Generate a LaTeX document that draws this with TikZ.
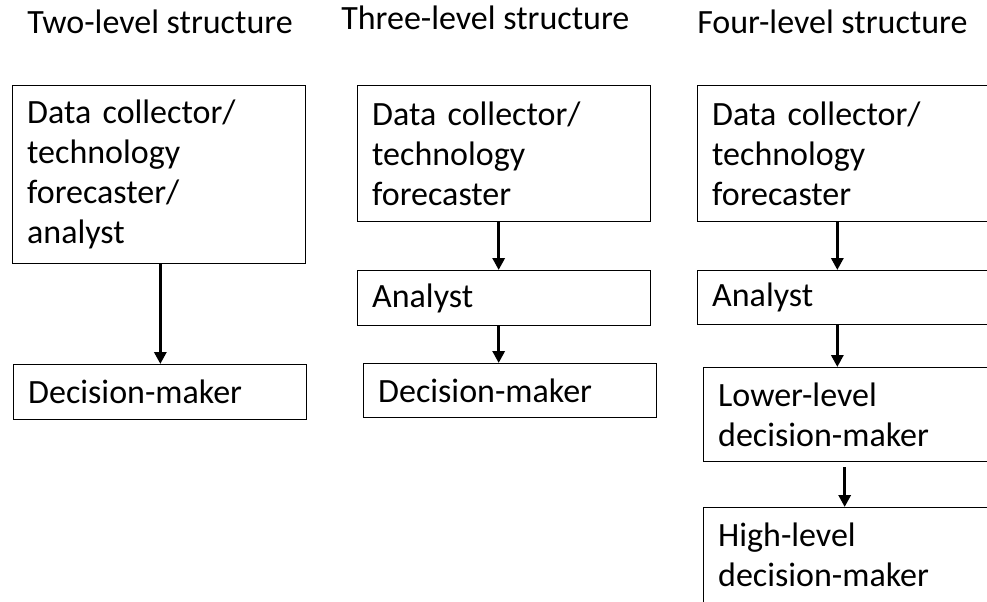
\documentclass[tikz,border=0pt]{standalone}
\usepackage{fontspec}
\setmainfont{Carlito}
\usetikzlibrary{arrows.meta,positioning}

\tikzset{
  level box/.style={draw, line width=0.75pt, anchor=north west, align=left,
    inner xsep=11pt, inner ysep=0pt, text width=197.75pt,
    font=\fontsize{25.5}{30}\selectfont},
  title/.style={anchor=base west, inner sep=0pt, font=\fontsize{25.5}{30}\selectfont},
  down arrow/.style={-{Triangle[length=9pt,width=9pt]}, line width=2.25pt}
}

\begin{document}
\begin{tikzpicture}[x=0.75pt, y=-0.75pt]
\useasboundingbox (0,0) rectangle (987,601);
\clip (0,0) rectangle (987,601);

% Column titles
\node[title] (t2) at (27,33) {Two-level structure};
\node[title] (t3) at (341,29) {Three-level structure};
\node[title] (t4) at (697,33) {Four-level structure};

% Two-level structure
\node[level box, minimum height=133.5pt] (dc2) at (12,85) {Data collector/\\technology\\forecaster/\\analyst};
\node[level box, minimum height=41.25pt] (dm2) at (13,364) {Decision-maker};
\draw[down arrow] ([xshift=1pt]dc2.south) -- ([xshift=1pt]dc2.south |- dm2.north);

% Three-level structure
\node[level box, minimum height=102pt] (dc3) at (357,85) {Data collector/\\technology\\forecaster};
\node[level box, minimum height=41.25pt] (an3) at (357,270) {Analyst};
\node[level box, minimum height=40.5pt] (dm3) at (363,363) {Decision-maker};
\draw[down arrow] ([xshift=-4pt]dc3.south) -- ([xshift=-4pt]dc3.south |- an3.north);
\draw[down arrow] ([xshift=-4pt]an3.south) -- ([xshift=-4pt]an3.south |- dm3.north);

% Four-level structure
\node[level box, minimum height=102pt] (dc4) at (697,85) {Data collector/\\technology\\forecaster};
\node[level box, minimum height=40.5pt] (an4) at (697,270) {Analyst};
\node[level box, minimum height=70.5pt] (lo4) at (703,367) {Lower-level\\decision-maker};
\node[level box, minimum height=71.25pt] (hi4) at (703,507) {High-level\\decision-maker};
\draw[down arrow] ([xshift=-5pt]dc4.south) -- ([xshift=-5pt]dc4.south |- an4.north);
\draw[down arrow] ([xshift=-5pt]an4.south) -- ([xshift=-5pt]an4.south |- lo4.north);
\draw[down arrow, shorten <=4pt] ([xshift=-4pt]lo4.south) -- ([xshift=-4pt]lo4.south |- hi4.north);
\end{tikzpicture}
\end{document}
